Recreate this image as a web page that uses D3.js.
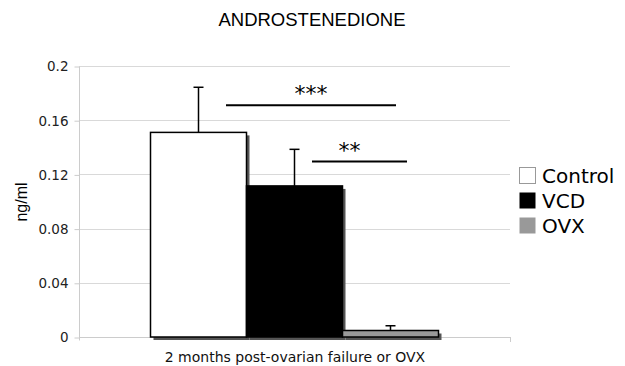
<!DOCTYPE html>
<html>
<head>
<meta charset="utf-8">
<script src="https://cdn.jsdelivr.net/npm/d3@7"></script>
<style>
  html, body { margin: 0; padding: 0; background: #fff; }
  svg { display: block; }
</style>
</head>
<body>
<svg id="chart" width="625" height="366"></svg>
<script>
// Androstenedione levels, 2 months post-ovarian failure or OVX
const groups = ["Control", "VCD", "OVX"];
const means = [0.151, 0.1115, 0.0048];
const errors = [0.0333, 0.027, 0.0035];
const yTicks = [0, 0.04, 0.08, 0.12, 0.16, 0.2];
const yTickLabels = ["0", "0.04", "0.08", "0.12", "0.16", "0.2"];
const fills = ["#ffffff", "#000000", "#999999"];
// significance brackets: label and the level they are drawn at
const sigLabels = ["***", "**"];
const sigLevels = [0.171, 0.1295];

const svg = d3.select("#chart");
const m = { left: 79, right: 510, top: 66, bottom: 337 };

const y = d3.scaleLinear().domain([0, 0.2]).range([m.bottom, m.top]);
const x = d3.scaleBand().domain(groups).range([150.5, 438.5]).padding(0);

const sans = "'Liberation Sans', Arial, sans-serif";
const verd = "'DejaVu Sans', Verdana, sans-serif";

// gridlines
svg.append("g")
  .selectAll("line")
  .data(yTicks.slice(1))
  .join("line")
  .attr("x1", m.left).attr("x2", m.right)
  .attr("y1", d => Math.round(y(d)) + 0.5).attr("y2", d => Math.round(y(d)) + 0.5)
  .attr("stroke", "#d9d9d9").attr("stroke-width", 1);

// y axis
const yAxis = d3.axisLeft(y)
  .tickValues(yTicks)
  .tickFormat((d, i) => yTickLabels[i])
  .tickSize(5)
  .tickPadding(6);
const ya = svg.append("g").attr("transform", `translate(${m.left + 0.5},0.5)`).call(yAxis);
ya.select(".domain").attr("stroke", "#cccccc").attr("d", `M0,${m.top}V${m.bottom + 3}`);
ya.selectAll(".tick line").attr("stroke", "#cccccc");
ya.selectAll(".tick text").attr("font-family", verd).attr("font-size", 13.5).attr("fill", "#222");

// x axis baseline
svg.append("line")
  .attr("x1", m.left).attr("x2", m.right)
  .attr("y1", m.bottom + 0.5).attr("y2", m.bottom + 0.5)
  .attr("stroke", "#cccccc");
svg.append("line")
  .attr("x1", m.right + 0.5).attr("x2", m.right + 0.5)
  .attr("y1", m.bottom).attr("y2", m.bottom + 5)
  .attr("stroke", "#cccccc");

// bar shadows
svg.append("g")
  .selectAll("rect")
  .data(groups)
  .join("rect")
  .attr("x", d => x(d) + 3)
  .attr("y", (d, i) => y(means[i]) + 3)
  .attr("width", x.bandwidth())
  .attr("height", (d, i) => y(0) - y(means[i]))
  .attr("fill", "#555");

// bars
svg.append("g")
  .selectAll("rect")
  .data(groups)
  .join("rect")
  .attr("x", d => x(d))
  .attr("y", (d, i) => y(means[i]))
  .attr("width", x.bandwidth())
  .attr("height", (d, i) => y(0) - y(means[i]))
  .attr("fill", (d, i) => fills[i])
  .attr("stroke", "#000")
  .attr("stroke-width", 1.5);

// error bars (upper only)
const eb = svg.append("g").attr("stroke", "#000").attr("stroke-width", 1.5);
groups.forEach((g, i) => {
  const cx = x(g) + x.bandwidth() / 2;
  eb.append("line").attr("x1", cx).attr("x2", cx)
    .attr("y1", y(means[i])).attr("y2", y(means[i] + errors[i]));
  eb.append("line").attr("x1", cx - 5).attr("x2", cx + 5)
    .attr("y1", y(means[i] + errors[i])).attr("y2", y(means[i] + errors[i]));
});

// significance lines
const sigX = [[226, 396], [312, 407]];
sigLabels.forEach((lab, i) => {
  const yy = y(sigLevels[i]);
  svg.append("line")
    .attr("x1", sigX[i][0]).attr("x2", sigX[i][1])
    .attr("y1", yy).attr("y2", yy)
    .attr("stroke", "#000").attr("stroke-width", 2);
  svg.append("text")
    .attr("x", (sigX[i][0] + sigX[i][1]) / 2 + (i === 1 ? -10 : 0))
    .attr("y", yy - 4)
    .attr("text-anchor", "middle")
    .attr("font-family", verd)
    .attr("font-size", 22)
    .attr("fill", "#000")
    .text(lab);
});

// title
svg.append("text")
  .attr("x", 312).attr("y", 26)
  .attr("text-anchor", "middle")
  .attr("font-family", sans).attr("font-size", 18.5)
  .text("ANDROSTENEDIONE");

// y label
svg.append("text")
  .attr("transform", "translate(27,202) rotate(-90)")
  .attr("text-anchor", "middle")
  .attr("font-family", sans).attr("font-size", 16)
  .text("ng/ml");

// x label
svg.append("text")
  .attr("x", 295).attr("y", 362)
  .attr("text-anchor", "middle")
  .attr("font-family", verd).attr("font-size", 14)
  .attr("fill", "#111")
  .text("2 months post-ovarian failure or OVX");

// legend
const lg = svg.append("g").attr("transform", "translate(519,167)");
groups.forEach((g, i) => {
  const row = lg.append("g").attr("transform", `translate(0,${i * 25})`);
  row.append("rect")
    .attr("x", 0.5).attr("y", 0.5).attr("width", 16).attr("height", 16)
    .attr("fill", fills[i])
    .attr("stroke", i === 0 ? "#999" : "none");
  row.append("text")
    .attr("x", 23).attr("y", 15.5)
    .attr("font-family", verd).attr("font-size", 20)
    .text(g);
});
</script>
</body>
</html>
